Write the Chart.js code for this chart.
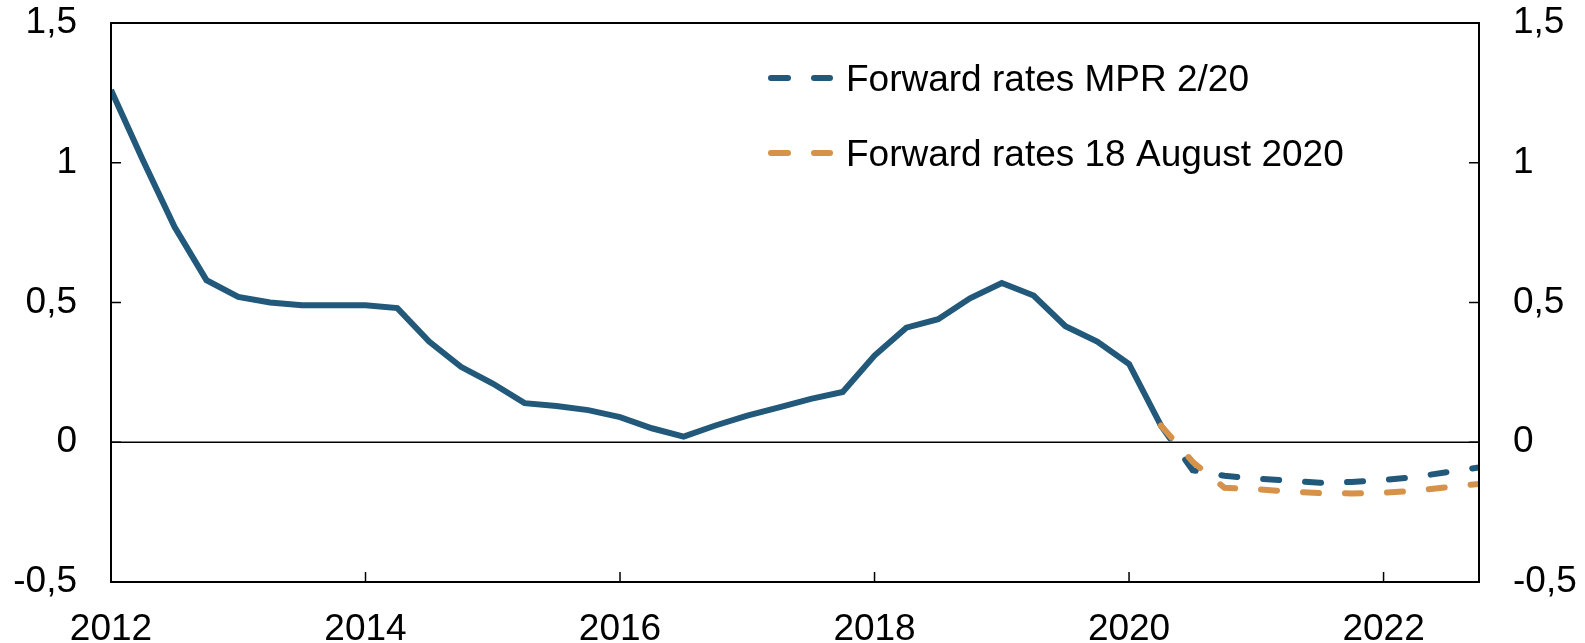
<!DOCTYPE html>
<html>
<head>
<meta charset="utf-8">
<script src="https://cdn.jsdelivr.net/npm/chart.js@4.4.1/dist/chart.umd.min.js"></script>
<style>
  html, body { margin: 0; padding: 0; background: #ffffff; }
  #wrap { width: 1585px; height: 643px; position: relative; }
</style>
</head>
<body>
<div id="wrap"><canvas id="c" width="1585" height="643"></canvas></div>
<script>
// ---- Data ----
const histDates = [2012.00, 2012.25, 2012.50, 2012.75, 2013.00, 2013.25, 2013.50, 2013.75,
                   2014.00, 2014.25, 2014.50, 2014.75, 2015.00, 2015.25, 2015.50, 2015.75,
                   2016.00, 2016.25, 2016.50, 2016.75, 2017.00, 2017.25, 2017.50, 2017.75,
                   2018.00, 2018.25, 2018.50, 2018.75, 2019.00, 2019.25, 2019.50, 2019.75,
                   2020.00, 2020.25];
const histValues = [1.26, 1.01, 0.77, 0.58, 0.52, 0.50, 0.49, 0.49,
                    0.49, 0.48, 0.36, 0.27, 0.21, 0.14, 0.13, 0.115,
                    0.09, 0.05, 0.02, 0.06, 0.095, 0.125, 0.155, 0.18,
                    0.31, 0.41, 0.44, 0.515, 0.57, 0.525, 0.415, 0.36,
                    0.28, 0.06];
const fwdDates = [2020.25, 2020.50, 2020.75, 2021.00, 2021.25, 2021.50, 2021.75,
                  2022.00, 2022.25, 2022.50, 2022.75];
const fwdMPR = [0.06, -0.10, -0.12, -0.13, -0.137, -0.145, -0.142, -0.135, -0.124, -0.107, -0.09];
const fwdAug = [0.06, -0.07, -0.163, -0.168, -0.176, -0.182, -0.183, -0.18, -0.174, -0.161, -0.149];

const seriesNames = ['Forward rates MPR 2/20', 'Forward rates 18 August 2020'];
const xTickValues = [2012, 2014, 2016, 2018, 2020, 2022];
const yTickValues = [-0.5, 0, 0.5, 1, 1.5];

const BLUE = '#22597A';
const ORANGE = '#D69248';
const FONT = "'Liberation Sans', Arial, sans-serif";

const toXY = (xs, ys) => xs.map((x, i) => ({ x: x, y: ys[i] }));
const fmtY = v => String(v).replace('.', ',');

// Draw zero line, frame, inward tick marks, and legend
const decorPlugin = {
  id: 'decor',
  beforeDatasetsDraw(chart) {
    const ctx = chart.ctx, a = chart.chartArea, y = chart.scales.y;
    const y0 = y.getPixelForValue(0);
    ctx.save();
    ctx.strokeStyle = '#000';
    ctx.lineWidth = 1.5;
    ctx.beginPath();
    ctx.moveTo(a.left, y0); ctx.lineTo(a.right, y0);
    ctx.stroke();
    ctx.restore();
  },
  afterDatasetsDraw(chart) {
    const ctx = chart.ctx, a = chart.chartArea;
    const x = chart.scales.x, y = chart.scales.y;
    ctx.save();
    ctx.strokeStyle = '#000';
    ctx.lineWidth = 2;
    ctx.strokeRect(a.left, a.top, a.right - a.left, a.bottom - a.top);
    ctx.lineWidth = 1.5;
    ctx.beginPath();
    xTickValues.forEach(v => {
      const px = x.getPixelForValue(v);
      ctx.moveTo(px, a.bottom); ctx.lineTo(px, a.bottom - 10);
    });
    yTickValues.forEach(v => {
      const py = y.getPixelForValue(v);
      ctx.moveTo(a.left, py); ctx.lineTo(a.left + 10, py);
      ctx.moveTo(a.right, py); ctx.lineTo(a.right - 10, py);
    });
    ctx.stroke();

    // legend
    const items = [
      { name: seriesNames[0], color: BLUE, y: 78, base: 91 },
      { name: seriesNames[1], color: ORANGE, y: 153, base: 166 }
    ];
    items.forEach(it => {
      ctx.strokeStyle = it.color;
      ctx.lineWidth = 6;
      ctx.lineCap = 'round';
      ctx.beginPath();
      ctx.moveTo(771, it.y); ctx.lineTo(788, it.y);
      ctx.moveTo(814, it.y); ctx.lineTo(830, it.y);
      ctx.stroke();
      ctx.fillStyle = '#000';
      ctx.font = '37px ' + FONT;
      ctx.textAlign = 'left';
      ctx.textBaseline = 'alphabetic';
      ctx.fillText(it.name, 846, it.base);
    });
    ctx.restore();
  }
};

const tickFont = { family: FONT, size: 37 };
const fixY = w => s => { s.width = w; s.paddingTop = 0; s.paddingBottom = 0; };

new Chart(document.getElementById('c'), {
  type: 'line',
  data: {
    datasets: [
      { label: seriesNames[1], data: toXY(fwdDates, fwdAug), borderColor: ORANGE,
        borderWidth: 6, borderDash: [16, 26], borderCapStyle: 'round', pointRadius: 0,
        tension: 0, order: 0, yAxisID: 'y' },
      { label: seriesNames[0], data: toXY(fwdDates, fwdMPR), borderColor: BLUE,
        borderWidth: 6, borderDash: [16, 26], borderCapStyle: 'round', pointRadius: 0,
        tension: 0, order: 1, yAxisID: 'y' },
      { label: 'Historical', data: toXY(histDates, histValues), borderColor: BLUE,
        borderWidth: 6, pointRadius: 0, tension: 0, order: 2, yAxisID: 'y',
        borderJoinStyle: 'miter' }
    ]
  },
  options: {
    responsive: false,
    animation: false,
    devicePixelRatio: 1,
    layout: { padding: { top: 23, left: 0, right: 0, bottom: 0 } },
    plugins: { legend: { display: false }, tooltip: { enabled: false } },
    scales: {
      x: {
        type: 'linear', position: 'bottom', min: 2012, max: 2022.75,
        afterBuildTicks: s => { s.ticks = xTickValues.map(v => ({ value: v })); },
        afterFit: s => { s.height = 61; s.paddingLeft = 0; s.paddingRight = 0; },
        grid: { display: false, drawTicks: false },
        border: { display: false },
        ticks: { color: '#000', font: tickFont, padding: 26, maxRotation: 0,
                 callback: v => String(v) }
      },
      y: {
        type: 'linear', position: 'left', min: -0.5, max: 1.5,
        afterBuildTicks: s => { s.ticks = yTickValues.map(v => ({ value: v })); },
        afterFit: fixY(111),
        grid: { display: false, drawTicks: false },
        border: { display: false },
        ticks: { color: '#000', font: tickFont, padding: 34, callback: v => fmtY(v) }
      },
      y2: {
        type: 'linear', position: 'right', min: -0.5, max: 1.5,
        afterBuildTicks: s => { s.ticks = yTickValues.map(v => ({ value: v })); },
        afterFit: fixY(106),
        grid: { display: false, drawTicks: false },
        border: { display: false },
        ticks: { color: '#000', font: tickFont, padding: 34, callback: v => fmtY(v) }
      }
    }
  },
  plugins: [decorPlugin]
});
</script>
</body>
</html>
